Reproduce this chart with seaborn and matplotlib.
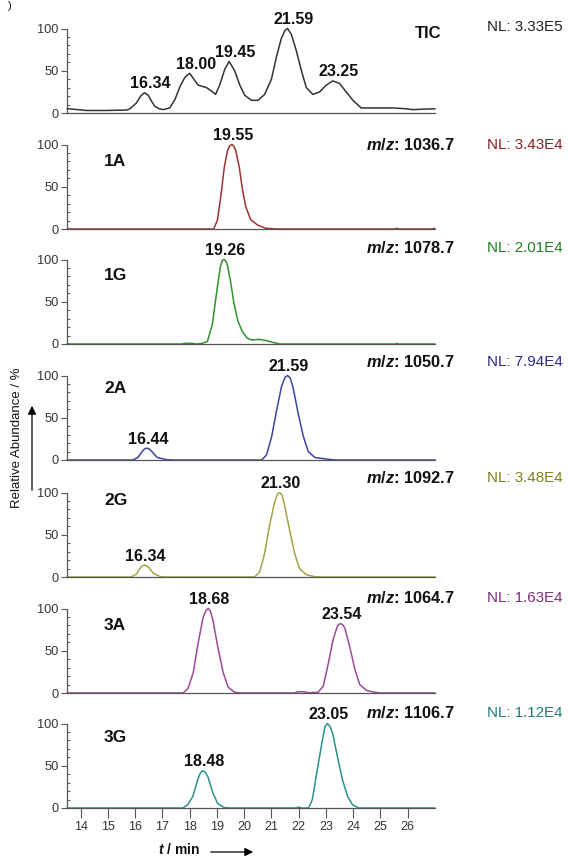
import numpy as np
import pandas as pd
import matplotlib
matplotlib.use("Agg")
import matplotlib.pyplot as plt
import seaborn as sns

# ---------------- data ----------------
time_ticks = [14, 15, 16, 17, 18, 19, 20, 21, 22, 23, 24, 25, 26]
panel_names = ["TIC", "1A", "1G", "2A", "2G", "3A", "3G"]
mz_labels = [None, "1036.7", "1078.7", "1050.7", "1092.7", "1064.7", "1106.7"]
nl_labels = ["NL: 3.33E5", "NL: 3.43E4", "NL: 2.01E4", "NL: 7.94E4",
             "NL: 3.48E4", "NL: 1.63E4", "NL: 1.12E4"]

tic_trace = [(13.50, 5), (13.55, 5), (14.22, 3), (14.95, 3), (15.69, 3.5), (15.81, 5),
             (16.05, 12), (16.20, 20), (16.34, 24), (16.48, 21), (16.60, 14), (16.72, 8),
             (16.88, 5), (17.03, 4), (17.27, 6), (17.46, 16), (17.64, 31), (17.82, 42),
             (18.00, 47), (18.13, 41), (18.31, 33), (18.62, 30), (18.80, 26), (18.95, 22),
             (19.10, 33), (19.29, 52), (19.45, 61), (19.65, 50), (19.84, 33), (20.02, 21),
             (20.26, 15), (20.51, 15), (20.75, 22), (21.00, 40), (21.18, 66), (21.36, 88),
             (21.50, 98), (21.59, 100), (21.73, 93), (21.91, 74), (22.10, 50), (22.28, 30),
             (22.52, 22), (22.77, 25), (23.01, 33), (23.25, 38), (23.50, 35), (23.74, 25),
             (23.99, 15), (24.29, 6), (24.72, 6), (25.45, 6), (25.94, 5), (26.19, 4),
             (26.55, 4.5), (27.00, 5)]
a1_trace = [(13.50, 0), (18.88, 0), (19.02, 10.6), (19.14, 38), (19.27, 73), (19.39, 93),
            (19.47, 98.5), (19.55, 100), (19.62, 98), (19.69, 93), (19.82, 73), (19.94, 46),
            (20.06, 26), (20.24, 11), (20.49, 4.7), (20.79, 0.8), (21.20, 0), (25.55, 0),
            (25.60, 1), (25.65, 0), (26.90, 0), (26.95, 0.8), (27.00, 0)]
g1_trace = [(13.50, 0), (17.70, 0), (17.80, 0.8), (18.10, 0.8), (18.25, 0), (18.46, 0.8),
            (18.65, 3), (18.83, 23), (19.01, 66), (19.13, 92), (19.20, 99), (19.26, 100),
            (19.32, 98.5), (19.38, 94), (19.50, 74), (19.62, 49), (19.77, 27), (19.93, 15),
            (20.11, 7), (20.29, 4.7), (20.54, 5.5), (20.78, 4.3), (21.09, 1.6), (21.33, 0),
            (25.55, 0), (25.60, 0.8), (25.65, 0), (27.00, 0)]
a2_trace = [(13.50, 0), (15.92, 0), (16.10, 3), (16.28, 11), (16.36, 13.5), (16.44, 14),
            (16.52, 13), (16.61, 10), (16.81, 3), (17.14, 0.4), (17.40, 0), (20.64, 0),
            (20.82, 6), (21.01, 28), (21.19, 59), (21.37, 87), (21.50, 98), (21.59, 100),
            (21.69, 97), (21.80, 85), (21.98, 55), (22.17, 28), (22.35, 10), (22.59, 3),
            (22.90, 1.6), (23.20, 0.4), (23.40, 0), (27.00, 0)]
g2_trace = [(13.50, 0), (15.86, 0), (16.05, 3.6), (16.19, 10.7), (16.27, 13.3), (16.34, 14),
            (16.42, 13.3), (16.50, 11.5), (16.68, 4), (16.93, 0.4), (17.10, 0), (20.38, 0),
            (20.57, 6), (20.75, 28), (20.93, 61), (21.12, 89), (21.22, 98), (21.30, 100),
            (21.39, 97), (21.48, 85), (21.67, 55), (21.85, 28), (22.03, 10), (22.28, 2.8),
            (22.58, 0.4), (22.80, 0), (27.00, 0)]
a3_trace = [(13.50, 0), (17.76, 0), (17.94, 5.5), (18.13, 24), (18.31, 59), (18.49, 89),
            (18.60, 98), (18.68, 100), (18.76, 97), (18.86, 85), (19.04, 53), (19.23, 24),
            (19.41, 7), (19.65, 0.8), (19.90, 0), (21.85, 0), (21.95, 1.5), (22.20, 1.5),
            (22.35, 0.3), (22.71, 0.8), (22.90, 8), (23.08, 34), (23.26, 63), (23.42, 79),
            (23.48, 81.5), (23.54, 82), (23.61, 81), (23.69, 77), (23.87, 55), (24.06, 28),
            (24.24, 10), (24.49, 3), (24.79, 0.8), (25.00, 0), (27.00, 0)]
g3_trace = [(13.50, 0), (17.75, 0), (17.93, 4), (18.12, 14), (18.30, 34), (18.40, 42),
            (18.48, 44), (18.57, 42.5), (18.67, 37), (18.85, 18), (19.03, 5), (19.28, 0.4),
            (19.50, 0), (21.90, 0), (22.00, 1.2), (22.10, 0), (22.36, 0), (22.50, 10),
            (22.66, 41), (22.85, 77), (22.96, 96), (23.05, 100), (23.14, 97), (23.24, 89),
            (23.42, 61), (23.60, 34), (23.79, 14), (23.97, 4), (24.19, 0), (27.00, 0)]

peak_labels = [
    [(16.34, 24, "16.34"), (18.00, 47, "18.00"), (19.45, 61, "19.45"),
     (21.59, 100, "21.59"), (23.25, 38, "23.25")],
    [(19.55, 100, "19.55")],
    [(19.26, 100, "19.26")],
    [(16.44, 14, "16.44"), (21.59, 100, "21.59")],
    [(16.34, 14, "16.34"), (21.30, 100, "21.30")],
    [(18.68, 100, "18.68"), (23.54, 82, "23.54")],
    [(18.48, 44, "18.48"), (23.05, 100, "23.05")],
]
traces = [tic_trace, a1_trace, g1_trace, a2_trace, g2_trace, a3_trace, g3_trace]

# ---------------- style ----------------
line_colors = ["#333333", "#9e3232", "#2f932f", "#3a469e", "#a3a345", "#9a4a9a", "#2b9090"]
nl_colors = ["#222222", "#8b1f1f", "#1f7f1f", "#2a2a8a", "#80801f", "#7d2d7d", "#1f7a7a"]

sns.set_theme(style="white")
plt.rcParams["font.family"] = ["Liberation Sans", "DejaVu Sans"]
plt.rcParams["mathtext.fontset"] = "custom"
plt.rcParams["mathtext.it"] = "Liberation Sans:italic:bold"
plt.rcParams["mathtext.rm"] = "Liberation Sans:bold"

W, H = 568, 859
fig = plt.figure(figsize=(W / 100, H / 100), dpi=100)

zero_px = [113, 229, 344, 460, 577, 693, 808]
ax_h = 84.5
ax_left, ax_right = 67, 435
name_y = [33, 162, 275, 389, 500, 625, 738]
info_y = [27, 145, 248, 362, 478, 598, 713]

for k in range(7):
    y0 = zero_px[k]
    ax = fig.add_axes([ax_left / W, 1 - y0 / H, (ax_right - ax_left) / W, ax_h / H])
    df = pd.DataFrame(traces[k], columns=["t", "I"])
    sns.lineplot(data=df, x="t", y="I", ax=ax, color=line_colors[k], lw=1.1,
                 estimator=None, sort=False)
    for l in ax.lines:
        l.set_clip_on(False)
    ax.set_xlim(13.5, 27)
    ax.set_ylim(0, 100)
    ax.set_xlabel("")
    ax.set_ylabel("")
    for s in ["top", "right"]:
        ax.spines[s].set_visible(False)
    for s in ["left", "bottom"]:
        ax.spines[s].set_color("#555555")
        ax.spines[s].set_linewidth(0.9)
    ax.set_yticks([0, 50, 100])
    ax.set_yticklabels(["0", "50", "100"], fontsize=9.2, color="#333333")
    ax.set_yticks([10, 20, 30, 40, 60, 70, 80, 90], minor=True)
    ax.tick_params(axis="y", which="major", direction="out", length=4, width=0.8,
                   color="#555555", pad=2, left=True)
    ax.tick_params(axis="y", which="minor", direction="in", length=2.5, width=0.7,
                   color="#555555", left=True)
    if k == 6:
        ax.set_xticks(time_ticks)
        ax.set_xticklabels([str(v) for v in time_ticks], fontsize=9, color="#333333")
        ax.tick_params(axis="x", which="major", direction="out", length=7, width=0.8,
                       color="#555555", pad=2, bottom=True)
    else:
        ax.set_xticks([])
    ax.grid(False)

    dx = 6 if k == 0 else 1
    for (t, v, s) in peak_labels[k]:
        ax.annotate(s, xy=(t, v), xytext=(dx * 0.72, 1.2), textcoords="offset points",
                    ha="center", va="bottom", fontsize=11.5, fontweight="bold",
                    color="#111111", annotation_clip=False)

    # panel name
    if k == 0:
        fig.text(441 / W, 1 - name_y[k] / H, panel_names[k], ha="right", va="center",
                 fontsize=12, fontweight="bold", color="#111111")
    else:
        fig.text(104 / W, 1 - name_y[k] / H, panel_names[k], ha="left", va="center",
                 fontsize=12.5, fontweight="bold", color="#111111")
        fig.text(455 / W, 1 - info_y[k] / H, r"$m/z$: " + mz_labels[k], ha="right",
                 va="center", fontsize=11.8, fontweight="bold", color="#111111")
    fig.text(487 / W, 1 - info_y[k] / H, nl_labels[k], ha="left", va="center",
             fontsize=10.9, color=nl_colors[k])

# axis titles with arrows
fig.text(17 / W, 1 - 438 / H, "Relative Abundance / %", rotation=90, ha="center",
         va="center", fontsize=9.5, color="#111111")
fig.add_artist(matplotlib.patches.FancyArrowPatch(
    (32 / W, 1 - 493 / H), (32 / W, 1 - 403 / H), transform=fig.transFigure,
    arrowstyle="-|>,head_length=5,head_width=2.5", lw=0.9, color="black"))
fig.text(179 / W, 1 - 850 / H, r"$t$ / min", ha="center", va="center",
         fontsize=10, fontweight="bold", color="#111111")
fig.add_artist(matplotlib.patches.FancyArrowPatch(
    (208 / W, 1 - 852 / H), (256 / W, 1 - 852 / H), transform=fig.transFigure,
    arrowstyle="-|>,head_length=5,head_width=2.5", lw=0.9, color="black"))
fig.text(8 / W, 1 - 1 / H, ")", ha="left", va="top", fontsize=8, color="#111111")

fig.savefig("out.png", dpi=100)
